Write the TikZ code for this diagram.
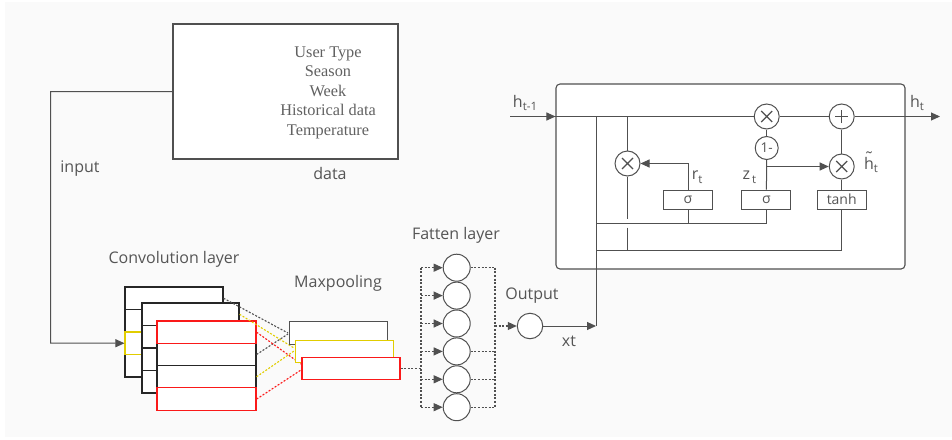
\documentclass[tikz,border=0pt]{standalone}
\usepackage{fontspec}
\setsansfont{Open Sans}
\newfontfamily\dataserif{Liberation Serif}
\usetikzlibrary{arrows.meta}
\definecolor{linegray}{RGB}{80,80,80}
\definecolor{txtgray}{RGB}{85,85,85}
\definecolor{mapyellow}{RGB}{225,205,0}
\definecolor{mapred}{RGB}{250,25,25}
\definecolor{bggray}{RGB}{250,250,250}
\newcommand\hsub[2]{#1\raisebox{-0.45ex}{\fontsize{11.5}{11.5}\selectfont #2}}
\newcommand\tildeh{\ooalign{h\cr\hidewidth\raisebox{0.32em}{\char"02DC}\hidewidth\cr}}

\begin{document}
\begin{tikzpicture}[x = 1pt, y = -1pt, line width = 1pt, draw = linegray, text = txtgray,
  font = \sffamily\fontsize{16}{18}\selectfont,
  mapbox/.style = {draw = black!85, fill = white, line width = 1.1pt, minimum width = 98pt, minimum height = 22.5pt, inner sep = 0pt},
  pool/.style = {draw = linegray, fill = white, line width = 1.1pt, minimum width = 98pt, minimum height = 22.5pt, inner sep = 0pt},
  neuron/.style = {circle, draw = linegray, fill = white, minimum size = 27pt, inner sep = 0pt},
  gate/.style = {draw = linegray, fill = white, minimum width = 49pt, minimum height = 19pt, inner sep = 0pt, font = \sffamily\fontsize{14}{14}\selectfont},
  op/.style = {circle, draw = linegray, fill = white, minimum size = 25pt, inner sep = 0pt, font = \sffamily\fontsize{13.5}{13.5}\selectfont},
  mul/.style = {op, path picture = {\draw[linegray, line width = 1.2pt] (path picture bounding box.center) ++(-5.5pt,-5.5pt) -- ++(11pt,11pt) (path picture bounding box.center) ++(-5.5pt,5.5pt) -- ++(11pt,-11pt);}},
  plus/.style = {op, path picture = {\draw[linegray, line width = 1.4pt] (path picture bounding box.center) ++(-6.5pt,0pt) -- ++(13pt,0pt) (path picture bounding box.center) ++(0pt,-6.5pt) -- ++(0pt,13pt);}},
  link/.style = {draw = linegray, line width = 1.1pt, dash pattern = on 2pt off 1.6pt},
  arr/.style = {-{Triangle[length = 9pt, width = 8pt]}}]
\useasboundingbox (0,0) rectangle (952,439);
\fill[bggray] (5,2) rectangle (952,437);

\node[draw = linegray, fill = white, line width = 1.1pt, minimum width = 225pt, minimum height = 135pt] (data) at (285.5,91.5) {};
\node[font = \dataserif\fontsize{16.3}{19.5}\selectfont, align = center, text = black!62] (items) at (328,92.5) {User Type\\Season\\Week\\Historical data\\Temperature};
\node (datalbl) at (330,173) {data};
\node (inlbl) at (80,169) {input};

\node (convlbl) at (174,259) {Convolution layer};
\node (poollbl) at (338,283) {Maxpooling};
\node (flatlbl) at (456,235) {Fatten layer};
\node (outlbl) at (532,296) {Output};
\node (xtlbl) at (569,341) {xt};

\foreach \r/\c in {1/black!85,2/black!85,4/black!85,3/mapyellow}
  \node[mapbox, draw = \c] (c1r\r) at (174, 275.75+22.5*\r) {};
\foreach \r in {1,2,3,4}
  \node[mapbox, minimum width = 97pt] (c2r\r) at (190.5, 291.75+22.5*\r) {};
\foreach \r/\c in {2/black!85,3/black!85,1/mapred,4/mapred}
  \node[mapbox, minimum width = 99pt, draw = \c] (c3r\r) at (206.5, 309.9+22.3*\r) {};

\coordinate (inbend) at (50.7,343);
\draw[arr] (data.west) -| (inbend) -- (c1r3.west);

\draw[link] (c1r1.east) -- (288,333);
\draw[link] (c3r2.east) -- (288,334);
\draw[link, draw = mapyellow] (c2r1.east) -- (294,348);
\draw[link, draw = mapyellow] (c3r3.east) -- (294,351);
\draw[link, draw = mapred] (c3r1.east) -- (301,364);
\draw[link, draw = mapred] (c3r4.east) -- (301,370);

\node[pool] (p1) at (338.5,333) {};
\node[pool, draw = mapyellow] (p2) at (344.5,351.5) {};
\node[pool, draw = mapred] (p3) at (351,368.5) {};

\foreach \k in {1,...,6}
  \node[neuron] (f\k) at (456.7, 239.8+27.9*\k) {};
\node[neuron, minimum size = 25.5pt] (out) at (530,326) {};

\coordinate (busL) at (421,0);
\coordinate (busR) at (495,0);
\draw[link] (p3.east) -- (p3.east -| busL);
\draw[link] (f1.west -| busL) -- (f6.west -| busL);
\foreach \k in {1,...,6}
  \draw[link, arr] (f\k.west -| busL) -- (f\k.west);
\foreach \k in {1,4,5,6}
  \draw[link] (f\k.east) -- (f\k.east -| busR);
\draw[link] (f1.east -| busR) -- (f6.east -| busR);
\draw[link, arr] (out.west -| busR) -- (out.west);

\coordinate (xt) at (596,326);
\draw[arr] (out.east) -- (xt);

\node[draw = linegray, fill = white, line width = 1.1pt, rounded corners = 4pt, minimum width = 349pt, minimum height = 185pt] (gru) at (730.5,176.5) {};

\node[gate] (sr) at (688,199.7) {σ};
\node[gate] (sz) at (766.4,199.7) {σ};
\node[gate] (th) at (841.7,199.7) {tanh};
\node[mul] (mr) at (627.5,163.5) {};
\node[mul] (mz) at (766.7,116.5) {};
\node[op, minimum size = 23pt] (om) at (766.7,148) {1-};
\node[plus] (pl) at (841.7,116.5) {};
\node[mul] (mh) at (841.7,166.5) {};

\coordinate (hin) at (510,116.5);
\coordinate (hout) at (940,116.5);
\coordinate (bus1) at (596,223.3);
\coordinate (bus2) at (596,250);
\coordinate (gapT) at (0,219);
\coordinate (gapB) at (0,227.5);

\draw[arr] (hin) -- (hin -| gru.west);
\draw (hin -| gru.west) -- (mz.west);
\draw (mz.east) -- (pl.west);
\draw[arr] (pl.east) -- (hout);
\draw (xt) -- (xt |- hin);

\draw (mr.north |- hin) -- (mr.north);
\draw (mr.south) -- (mr.south |- gapT);
\draw (mr.south |- gapB) -- (mr.south |- bus2);
\draw (bus1) -- (sz.south |- bus1) -- (sz.south);
\draw (sr.south) -- (sr.south |- bus1);
\draw (bus2) -- (th.south |- bus2) -- (th.south);
\draw[arr] (sr.north) |- (mr.east);
\draw (sz.north) -- (om.south);
\path (sz.north |- mh.west) coordinate (zb);
\draw[arr] (zb) -- (mh.west);
\draw (om.north) -- (mz.south);
\draw (th.north) -- (mh.south);
\draw (mh.north) -- (pl.south);

\node (hprev) at (525,103) {\hsub{h}{t-1}};
\node (hcur) at (917,103) {\hsub{h}{t}};
\node[anchor = west] (rlbl) at (688,177) {\hsub{r}{t}};
\node[anchor = east] (zlbl) at (760,177) {\hsub{z}{\,t}};
\node (htlbl) at (871,165) {\hsub{\tildeh}{t}};
\end{tikzpicture}
\end{document}
